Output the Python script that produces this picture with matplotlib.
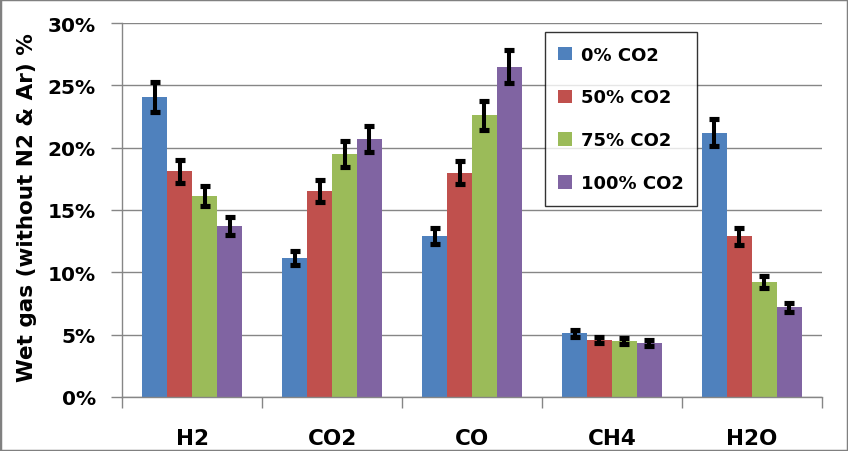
import matplotlib
matplotlib.use("Agg")
import matplotlib.pyplot as plt
import numpy as np
from matplotlib.patches import Rectangle
from matplotlib.ticker import FuncFormatter, FixedLocator

categories = ["H2", "CO2", "CO", "CH4", "H2O"]
series_names = ["0% CO2", "50% CO2", "75% CO2", "100% CO2"]
vals_0 = [24.1, 11.15, 12.9, 5.1, 21.2]
vals_50 = [18.1, 16.5, 18.0, 4.6, 12.9]
vals_75 = [16.1, 19.5, 22.6, 4.5, 9.2]
vals_100 = [13.7, 20.7, 26.5, 4.35, 7.2]
err_0 = [1.2, 0.6, 0.66, 0.25, 1.06]
err_50 = [0.9, 0.87, 0.9, 0.25, 0.68]
err_75 = [0.8, 1.02, 1.18, 0.22, 0.49]
err_100 = [0.71, 1.06, 1.34, 0.25, 0.37]
colors = ["#4F81BD", "#C0504D", "#9BBB59", "#8064A2"]

values = [vals_0, vals_50, vals_75, vals_100]
errors = [err_0, err_50, err_75, err_100]

plt.rcParams['font.family'] = ['DejaVu Sans']
plt.rcParams['font.weight'] = 'bold'

fig = plt.figure(figsize=(8.48, 4.52), dpi=100)
ax = fig.add_axes([0.1439, 0.1195, 0.8254, 0.8274])

x = np.arange(len(categories))
w = 0.714 / 4
for i, (v, e, c, n) in enumerate(zip(values, errors, colors, series_names)):
    pos = x - 0.357 + w * (i + 0.5)
    ax.bar(pos, v, width=w, color=c, label=n, zorder=2)
    ax.errorbar(pos, v, yerr=e, fmt='none', ecolor='black', elinewidth=2.9,
                capsize=3.3, capthick=3.7, zorder=3)

ax.set_xlim(-0.5, len(categories) - 0.5)
ax.set_ylim(0, 30)
ax.set_yticks(np.arange(0, 31, 5))
ax.yaxis.set_major_formatter(FuncFormatter(lambda v, p: f"{int(v)}%"))
ax.set_xticks(x)
ax.set_xticklabels(categories)
ax.xaxis.set_minor_locator(FixedLocator(np.arange(-0.5, len(categories), 1.0)))
ax.tick_params(axis='x', which='major', length=0, pad=22, labelsize=15.5)
ax.tick_params(axis='x', which='minor', length=8, width=1, color='#868686')
ax.tick_params(axis='y', length=8, width=1, color='#868686', pad=11, labelsize=14.5)
for lab in ax.get_xticklabels() + ax.get_yticklabels():
    lab.set_fontweight('bold')

ax.grid(axis='y', color='#868686', linewidth=1, zorder=0)
ax.set_axisbelow(True)
for s in ['top', 'right']:
    ax.spines[s].set_visible(False)
for s in ['left', 'bottom']:
    ax.spines[s].set_color('#868686')
    ax.spines[s].set_linewidth(1)

ax.set_ylabel("Wet gas (without N2 & Ar) %", fontsize=15.5, fontweight='bold')
ax.yaxis.set_label_coords(-0.122, 0.509)

leg = ax.legend(loc='upper left', bbox_to_anchor=(0.604, 0.976), fontsize=13,
                frameon=True, fancybox=False, edgecolor='black', labelspacing=1.38,
                handlelength=0.75, handleheight=0.75, handletextpad=0.5, borderpad=0.75,
                borderaxespad=0)
leg.get_frame().set_linewidth(1)
for t in leg.get_texts():
    t.set_fontweight('bold')

fig.patches.append(Rectangle((0, 0), 1, 1, transform=fig.transFigure, fill=False,
                             edgecolor='#808080', linewidth=2.5))

fig.savefig("out.png", dpi=100)
